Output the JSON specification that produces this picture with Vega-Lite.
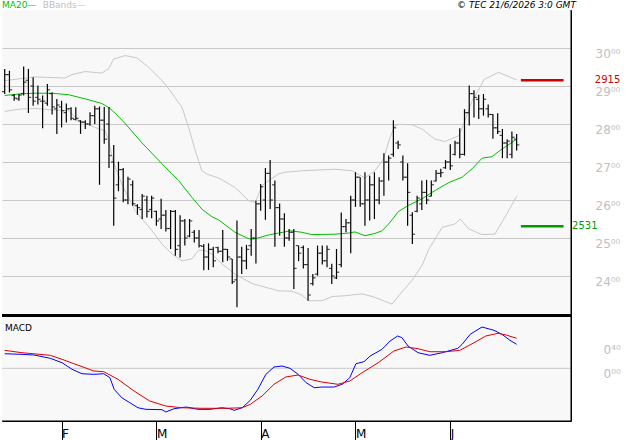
{
"$schema": "https://vega.github.io/schema/vega-lite/v6.json",
"padding": 0,
"background": "#ffffff",
"config": {"view": {"stroke": null, "fill": "#f8f8f8"}, "font": "DejaVu Sans"},
"spacing": 0,
"bounds": "flush",
"datasets": {
"bars": [
{"i":0,"o":28.85,"h":29.45,"l":28.79,"c":29.30},{"i":1,"o":29.30,"h":29.40,"l":28.83,"c":28.90},{"i":2,"o":28.75,"h":28.79,"l":28.61,"c":28.68},{"i":3,"o":28.66,"h":28.79,"l":28.61,"c":28.76},{"i":4,"o":28.80,"h":29.51,"l":28.75,"c":29.10},{"i":5,"o":29.15,"h":29.45,"l":28.29,"c":28.70},{"i":6,"o":29.00,"h":29.23,"l":28.48,"c":28.60},{"i":7,"o":28.70,"h":29.01,"l":28.51,"c":28.65},{"i":8,"o":28.60,"h":28.75,"l":27.89,"c":28.60},{"i":9,"o":28.55,"h":29.05,"l":28.48,"c":28.90},
{"i":10,"o":28.80,"h":28.83,"l":28.25,"c":28.45},{"i":11,"o":28.40,"h":28.66,"l":27.74,"c":28.50},{"i":12,"o":28.45,"h":28.61,"l":27.91,"c":28.35},{"i":13,"o":28.30,"h":28.54,"l":28.04,"c":28.40},{"i":14,"o":28.40,"h":28.44,"l":28.10,"c":28.15},{"i":15,"o":28.12,"h":28.44,"l":28.09,"c":28.15},{"i":16,"o":28.08,"h":28.10,"l":27.74,"c":28.05},{"i":17,"o":28.05,"h":28.10,"l":27.87,"c":28.00},{"i":18,"o":28.00,"h":28.31,"l":27.96,"c":28.22},{"i":19,"o":28.22,"h":28.48,"l":28.00,"c":28.40},
{"i":20,"o":28.40,"h":28.46,"l":26.40,"c":28.10},{"i":21,"o":28.10,"h":28.45,"l":27.48,"c":27.60},{"i":22,"o":28.00,"h":28.45,"l":26.84,"c":27.17},{"i":23,"o":27.00,"h":27.45,"l":25.32,"c":26.05},{"i":24,"o":26.40,"h":27.01,"l":26.23,"c":26.80},{"i":25,"o":26.80,"h":26.84,"l":25.94,"c":26.00},{"i":26,"o":26.00,"h":26.61,"l":25.89,"c":26.55},{"i":27,"o":26.40,"h":26.51,"l":25.85,"c":25.90},{"i":28,"o":25.85,"h":25.89,"l":25.61,"c":25.80},{"i":29,"o":25.75,"h":26.16,"l":25.50,"c":26.10},
{"i":30,"o":26.00,"h":26.11,"l":25.54,"c":25.70},{"i":31,"o":25.75,"h":26.11,"l":25.52,"c":26.05},{"i":32,"o":25.70,"h":25.72,"l":25.32,"c":25.45},{"i":33,"o":25.50,"h":26.03,"l":25.24,"c":25.60},{"i":34,"o":25.60,"h":25.74,"l":25.17,"c":25.25},{"i":35,"o":25.25,"h":25.74,"l":24.71,"c":25.70},{"i":36,"o":25.70,"h":25.74,"l":24.53,"c":24.70},{"i":37,"o":24.80,"h":25.60,"l":24.49,"c":25.45},{"i":38,"o":25.45,"h":25.50,"l":24.80,"c":25.00},{"i":39,"o":25.05,"h":25.50,"l":25.02,"c":25.45},
{"i":40,"o":25.15,"h":25.21,"l":24.88,"c":25.00},{"i":41,"o":25.00,"h":25.21,"l":24.75,"c":24.80},{"i":42,"o":24.78,"h":24.84,"l":24.15,"c":24.50},{"i":43,"o":24.50,"h":24.86,"l":24.16,"c":24.70},{"i":44,"o":24.70,"h":24.77,"l":24.23,"c":24.40},{"i":45,"o":24.75,"h":24.77,"l":24.60,"c":24.65},{"i":46,"o":24.65,"h":25.21,"l":24.36,"c":24.70},{"i":47,"o":24.70,"h":24.71,"l":24.40,"c":24.50},{"i":48,"o":24.45,"h":24.45,"l":23.79,"c":23.85},{"i":49,"o":23.90,"h":25.46,"l":23.18,"c":24.50},
{"i":50,"o":24.50,"h":24.77,"l":24.05,"c":24.40},{"i":51,"o":24.40,"h":24.82,"l":24.18,"c":24.70},{"i":52,"o":24.80,"h":25.24,"l":24.53,"c":25.00},{"i":53,"o":25.00,"h":25.98,"l":24.33,"c":25.90},{"i":54,"o":25.90,"h":26.42,"l":25.72,"c":26.35},{"i":55,"o":26.00,"h":26.84,"l":25.48,"c":26.70},{"i":56,"o":26.70,"h":27.05,"l":25.76,"c":26.00},{"i":57,"o":26.40,"h":26.51,"l":24.77,"c":25.80},{"i":58,"o":25.80,"h":25.91,"l":25.06,"c":25.50},{"i":59,"o":25.50,"h":25.65,"l":24.77,"c":25.00},
{"i":60,"o":25.00,"h":25.24,"l":24.93,"c":25.15},{"i":61,"o":25.15,"h":25.24,"l":23.66,"c":24.20},{"i":62,"o":24.80,"h":24.80,"l":24.39,"c":24.60},{"i":63,"o":24.75,"h":24.80,"l":24.20,"c":24.30},{"i":64,"o":24.30,"h":24.74,"l":23.35,"c":23.50},{"i":65,"o":23.80,"h":24.05,"l":23.75,"c":23.95},{"i":66,"o":24.05,"h":24.80,"l":24.01,"c":24.60},{"i":67,"o":24.60,"h":24.80,"l":24.30,"c":24.40},{"i":68,"o":24.40,"h":24.80,"l":24.23,"c":24.70},{"i":69,"o":24.20,"h":24.32,"l":23.79,"c":24.00},
{"i":70,"o":23.95,"h":24.71,"l":23.92,"c":24.10},{"i":71,"o":24.30,"h":25.67,"l":24.23,"c":25.30},{"i":72,"o":25.30,"h":25.50,"l":25.15,"c":25.40},{"i":73,"o":25.40,"h":26.11,"l":24.60,"c":26.00},{"i":74,"o":26.00,"h":26.73,"l":25.82,"c":26.60},{"i":75,"o":26.60,"h":26.60,"l":25.82,"c":25.90},{"i":76,"o":25.90,"h":26.73,"l":25.32,"c":26.00},{"i":77,"o":26.00,"h":26.64,"l":25.46,"c":26.40},{"i":78,"o":26.40,"h":26.73,"l":25.50,"c":26.00},{"i":79,"o":26.00,"h":26.60,"l":25.89,"c":26.50},
{"i":80,"o":26.50,"h":27.23,"l":26.11,"c":27.00},{"i":81,"o":27.00,"h":27.17,"l":26.51,"c":27.10},{"i":82,"o":27.20,"h":28.10,"l":27.14,"c":27.90},{"i":83,"o":27.50,"h":27.56,"l":27.34,"c":27.45},{"i":84,"o":27.00,"h":27.17,"l":26.51,"c":26.60},{"i":85,"o":26.60,"h":26.97,"l":25.32,"c":26.20},{"i":86,"o":25.60,"h":25.68,"l":24.84,"c":25.10},{"i":87,"o":25.70,"h":26.11,"l":25.68,"c":26.05},{"i":88,"o":25.90,"h":26.51,"l":25.74,"c":26.20},{"i":89,"o":26.20,"h":26.53,"l":25.89,"c":26.00},
{"i":90,"o":26.10,"h":26.51,"l":26.09,"c":26.40},{"i":91,"o":26.50,"h":26.79,"l":26.49,"c":26.70},{"i":92,"o":26.70,"h":26.82,"l":26.60,"c":26.72},{"i":93,"o":26.85,"h":27.05,"l":26.82,"c":27.00},{"i":94,"o":27.00,"h":27.47,"l":26.79,"c":26.90},{"i":95,"o":27.20,"h":27.56,"l":27.17,"c":27.50},{"i":96,"o":27.50,"h":27.89,"l":27.10,"c":27.20},{"i":97,"o":27.20,"h":28.39,"l":27.17,"c":28.30},{"i":98,"o":28.30,"h":29.01,"l":27.96,"c":28.80},{"i":99,"o":28.80,"h":28.89,"l":28.17,"c":28.70},
{"i":100,"o":28.65,"h":28.77,"l":28.13,"c":28.40},{"i":101,"o":28.40,"h":28.79,"l":28.22,"c":28.65},{"i":102,"o":28.40,"h":28.51,"l":28.17,"c":28.25},{"i":103,"o":28.25,"h":28.26,"l":27.61,"c":27.90},{"i":104,"o":27.90,"h":28.28,"l":27.74,"c":27.80},{"i":105,"o":27.70,"h":27.87,"l":27.10,"c":27.50},{"i":106,"o":27.50,"h":27.60,"l":27.10,"c":27.55},{"i":107,"o":27.20,"h":27.80,"l":27.10,"c":27.65},{"i":108,"o":27.60,"h":27.74,"l":27.30,"c":27.45}
],
"ma20": [
{"i":0,"v":28.75},{"i":3,"v":28.79},{"i":6,"v":28.81},{"i":10,"v":28.81},{"i":13.5,"v":28.77},{"i":17,"v":28.66},{"i":20.5,"v":28.54},{"i":22,"v":28.43},{"i":23.5,"v":28.26},{"i":25.5,"v":28.00},{"i":29,"v":27.50},{"i":33.2,"v":26.95},{"i":36.7,"v":26.51},{"i":39.5,"v":26.07},{"i":41.6,"v":25.76},{"i":43.7,"v":25.56},{"i":45.1,"v":25.48},{"i":48.6,"v":25.15},{"i":51.5,"v":24.98},{"i":52.5,"v":24.97},{"i":55.7,"v":25.08},{"i":57.8,"v":25.13},{"i":60.3,"v":25.19},{"i":62.7,"v":25.15},{"i":64.8,"v":25.09},{"i":69.7,"v":25.10},{"i":72.6,"v":25.13},{"i":73.9,"v":25.16},{"i":76,"v":25.06},{"i":78.1,"v":25.12},{"i":79.6,"v":25.19},{"i":81,"v":25.37},{"i":83.1,"v":25.70},{"i":85.2,"v":25.86},{"i":88,"v":26.03},{"i":90.8,"v":26.25},{"i":93.7,"v":26.46},{"i":96.5,"v":26.60},{"i":98.6,"v":26.82},{"i":100.7,"v":27.10},{"i":102.8,"v":27.14},{"i":104.9,"v":27.34},{"i":108,"v":27.60}
],
"bbu": [
{"i":0,"v":29.14},{"i":6.4,"v":29.24},{"i":12.7,"v":29.21},{"i":14.2,"v":29.30},{"i":16.9,"v":29.38},{"i":20.5,"v":29.34},{"i":21.9,"v":29.45},{"i":23,"v":29.71},{"i":25.4,"v":29.80},{"i":27.9,"v":29.74},{"i":30.4,"v":29.49},{"i":33.2,"v":29.14},{"i":34.9,"v":28.88},{"i":35.9,"v":28.70},{"i":37.4,"v":28.44},{"i":38.8,"v":27.91},{"i":40.2,"v":27.30},{"i":41.6,"v":26.77},{"i":42.7,"v":26.68},{"i":45.1,"v":26.58},{"i":48.6,"v":26.33},{"i":51.5,"v":25.98},{"i":52.9,"v":25.94},{"i":54.3,"v":26.38},{"i":55.7,"v":26.51},{"i":57.8,"v":26.69},{"i":59.1,"v":26.73},{"i":62.7,"v":26.77},{"i":69.7,"v":26.81},{"i":73.3,"v":26.77},{"i":76,"v":26.58},{"i":78.1,"v":26.77},{"i":79.9,"v":27.08},{"i":81.3,"v":27.65},{"i":82.3,"v":27.95},{"i":83.1,"v":27.99},{"i":85.9,"v":27.98},{"i":88,"v":27.87},{"i":90.8,"v":27.60},{"i":92.9,"v":27.54},{"i":95.8,"v":27.69},{"i":97.1,"v":28.09},{"i":98.6,"v":28.61},{"i":100,"v":28.90},{"i":101.1,"v":29.17},{"i":104.2,"v":29.36},{"i":106.3,"v":29.25},{"i":108,"v":29.16}
],
"bbl": [
{"i":0,"v":28.33},{"i":3,"v":28.39},{"i":6.4,"v":28.41},{"i":10,"v":28.37},{"i":13.5,"v":28.35},{"i":15.6,"v":28.09},{"i":19,"v":27.91},{"i":21.2,"v":27.82},{"i":21.9,"v":27.56},{"i":22.9,"v":27.00},{"i":24.7,"v":26.42},{"i":27.5,"v":25.72},{"i":29,"v":25.50},{"i":31.1,"v":25.19},{"i":33.2,"v":24.84},{"i":35.3,"v":24.58},{"i":37.4,"v":24.40},{"i":39.5,"v":24.45},{"i":40.9,"v":24.68},{"i":42.3,"v":24.67},{"i":43.7,"v":24.58},{"i":45.8,"v":24.32},{"i":48.6,"v":24.05},{"i":52.2,"v":23.80},{"i":55.7,"v":23.68},{"i":57.8,"v":23.61},{"i":60.6,"v":23.60},{"i":62.7,"v":23.50},{"i":64.1,"v":23.35},{"i":67,"v":23.35},{"i":69.1,"v":23.46},{"i":71.8,"v":23.48},{"i":75.4,"v":23.53},{"i":78.1,"v":23.44},{"i":81.7,"v":23.26},{"i":83.8,"v":23.58},{"i":85.9,"v":23.88},{"i":88,"v":24.27},{"i":89.5,"v":24.71},{"i":92.3,"v":25.28},{"i":95,"v":25.37},{"i":96.1,"v":25.50},{"i":97.9,"v":25.24},{"i":100.7,"v":25.09},{"i":103.4,"v":25.10},{"i":105.5,"v":25.54},{"i":108,"v":26.10}
],
"macd": [
{"i":0,"v":0.240},{"i":3.65,"v":0.230},{"i":6.2,"v":0.219},{"i":9.6,"v":0.165},{"i":12.1,"v":0.092},{"i":14.2,"v":-0.016},{"i":16.3,"v":-0.089},{"i":18.8,"v":-0.099},{"i":20.9,"v":-0.089},{"i":22.2,"v":-0.155},{"i":23.1,"v":-0.346},{"i":24.7,"v":-0.484},{"i":26.4,"v":-0.566},{"i":28.1,"v":-0.649},{"i":29.8,"v":-0.675},{"i":33.2,"v":-0.681},{"i":34,"v":-0.719},{"i":35.7,"v":-0.665},{"i":38.3,"v":-0.637},{"i":40.8,"v":-0.675},{"i":43.3,"v":-0.675},{"i":45.8,"v":-0.649},{"i":47.5,"v":-0.665},{"i":48.4,"v":-0.691},{"i":50.1,"v":-0.649},{"i":51.8,"v":-0.527},{"i":53.4,"v":-0.346},{"i":55.1,"v":-0.099},{"i":56.8,"v":0.021},{"i":58.5,"v":0.038},{"i":60.2,"v":0.0},{"i":61.9,"v":-0.099},{"i":63.6,"v":-0.237},{"i":65.3,"v":-0.319},{"i":66.9,"v":-0.308},{"i":69.5,"v":-0.308},{"i":71.2,"v":-0.263},{"i":72.8,"v":-0.155},{"i":74.1,"v":0.076},{"i":75.8,"v":0.109},{"i":77.1,"v":0.202},{"i":79.6,"v":0.313},{"i":81.3,"v":0.449},{"i":82.9,"v":0.532},{"i":83.8,"v":0.504},{"i":85.1,"v":0.367},{"i":87.2,"v":0.257},{"i":89.7,"v":0.214},{"i":92.3,"v":0.257},{"i":95.6,"v":0.329},{"i":96.5,"v":0.395},{"i":98.2,"v":0.560},{"i":100.7,"v":0.680},{"i":103.2,"v":0.626},{"i":104.9,"v":0.560},{"i":106.6,"v":0.461},{"i":108,"v":0.395}
],
"signal": [
{"i":0,"v":0.296},{"i":3.65,"v":0.257},{"i":9.6,"v":0.214},{"i":12.1,"v":0.148},{"i":14.6,"v":0.076},{"i":18.8,"v":-0.044},{"i":20.9,"v":-0.056},{"i":23.9,"v":-0.181},{"i":27.3,"v":-0.374},{"i":30.6,"v":-0.538},{"i":34,"v":-0.621},{"i":37.4,"v":-0.649},{"i":41.6,"v":-0.658},{"i":46.7,"v":-0.658},{"i":50.1,"v":-0.649},{"i":51.8,"v":-0.593},{"i":54.3,"v":-0.456},{"i":56.8,"v":-0.263},{"i":59.3,"v":-0.143},{"i":61.9,"v":-0.110},{"i":64.4,"v":-0.181},{"i":66.9,"v":-0.226},{"i":70.3,"v":-0.263},{"i":72.8,"v":-0.209},{"i":75.4,"v":-0.072},{"i":78.8,"v":0.092},{"i":82.1,"v":0.285},{"i":84.7,"v":0.351},{"i":87.2,"v":0.323},{"i":89.7,"v":0.273},{"i":93.1,"v":0.273},{"i":96,"v":0.296},{"i":99,"v":0.421},{"i":101.5,"v":0.532},{"i":104.1,"v":0.576},{"i":105.8,"v":0.548},{"i":108,"v":0.494}
],
"levels": [
{"name":"resistance","level":29.15,"label":"2915"},
{"name":"support","level":25.31,"label":"2531"}
],
"notes": [
{"name":"ma","text":"MA20—"},
{"name":"bb","text":"BBands—"},
{"name":"copy","text":"© TEC 21/6/2026 3:0 GMT"},
{"name":"macd","text":"MACD"}
],
"frame": [{"part":"border"}]
},
"vconcat": [
{
"width": 569, "height": 304,
"layer": [
{"data": {"name": "bbu"}, "mark": {"type": "line", "color": "#c8c8c8", "strokeWidth": 1},
 "encoding": {
  "x": {"field": "i", "type": "quantitative", "scale": {"domain": [-0.57, 119.47], "nice": false, "zero": false}, "axis": null, "title": null},
  "y": {"field": "v", "type": "quantitative", "scale": {"domain": [23, 31], "nice": false, "zero": false}, "title": null,
   "axis": {"orient": "right", "values": [24,25,26,27,28,29,30], "grid": true, "gridColor": "#c8c8c8", "gridWidth": 1, "ticks": false, "domain": true, "domainColor": "#000000", "domainWidth": 1, "labelColor": "#c0c0c0", "labelFontSize": 12, "labelBaseline": "top", "labelPadding": 24, "labelFlush": false, "labelOverlap": false, "labelExpr": "datum.value + '⁰⁰'", "title": null}}
 }},
{"data": {"name": "bbl"}, "mark": {"type": "line", "color": "#c8c8c8", "strokeWidth": 1},
 "encoding": {
  "x": {"field": "i", "type": "quantitative", "scale": {"domain": [-0.57, 119.47], "nice": false, "zero": false}, "title": null},
  "y": {"field": "v", "type": "quantitative", "scale": {"domain": [23, 31], "nice": false, "zero": false}, "title": null}
 }},
{"data": {"name": "ma20"}, "mark": {"type": "line", "color": "#00c000", "strokeWidth": 1},
 "encoding": {
  "x": {"field": "i", "type": "quantitative", "scale": {"domain": [-0.57, 119.47], "nice": false, "zero": false}, "title": null},
  "y": {"field": "v", "type": "quantitative", "scale": {"domain": [23, 31], "nice": false, "zero": false}, "title": null}
 }},
{"data": {"name": "bars"}, "mark": {"type": "rule", "color": "#000000", "strokeWidth": 1.2},
 "encoding": {
  "x": {"field": "i", "type": "quantitative", "scale": {"domain": [-0.57, 119.47], "nice": false, "zero": false}, "title": null},
  "y": {"field": "l", "type": "quantitative", "scale": {"domain": [23, 31], "nice": false, "zero": false}, "title": null},
  "y2": {"field": "h"}
 }},
{"data": {"name": "bars"}, "mark": {"type": "tick", "orient": "horizontal", "color": "#000000", "size": 2.5, "thickness": 1.2, "xOffset": -1.5},
 "encoding": {
  "x": {"field": "i", "type": "quantitative", "scale": {"domain": [-0.57, 119.47], "nice": false, "zero": false}, "title": null},
  "y": {"field": "o", "type": "quantitative", "scale": {"domain": [23, 31], "nice": false, "zero": false}, "title": null}
 }},
{"data": {"name": "bars"}, "mark": {"type": "tick", "orient": "horizontal", "color": "#000000", "size": 2.5, "thickness": 1.2, "xOffset": 1.5},
 "encoding": {
  "x": {"field": "i", "type": "quantitative", "scale": {"domain": [-0.57, 119.47], "nice": false, "zero": false}, "title": null},
  "y": {"field": "c", "type": "quantitative", "scale": {"domain": [23, 31], "nice": false, "zero": false}, "title": null}
 }},
{"data": {"name": "levels"}, "transform": [{"filter": "datum.name == 'resistance'"}],
 "mark": {"type": "rule", "color": "#cc0000", "strokeWidth": 2.5},
 "encoding": {
  "x": {"datum": 108.9}, "x2": {"datum": 117.9},
  "y": {"field": "level", "type": "quantitative", "scale": {"domain": [23, 31], "nice": false, "zero": false}, "title": null}
 }},
{"data": {"name": "levels"}, "transform": [{"filter": "datum.name == 'support'"}],
 "mark": {"type": "rule", "color": "#009900", "strokeWidth": 2.5},
 "encoding": {
  "x": {"datum": 108.9}, "x2": {"datum": 117.9},
  "y": {"field": "level", "type": "quantitative", "scale": {"domain": [23, 31], "nice": false, "zero": false}, "title": null}
 }},
{"data": {"name": "levels"}, "transform": [{"filter": "datum.name == 'resistance'"}],
 "mark": {"type": "text", "color": "#cc0000", "fontSize": 10, "align": "left", "baseline": "middle", "dy": -0.5},
 "encoding": {
  "x": {"datum": 124.5},
  "y": {"field": "level", "type": "quantitative", "scale": {"domain": [23, 31], "nice": false, "zero": false}, "title": null},
  "text": {"field": "label"}
 }},
{"data": {"name": "levels"}, "transform": [{"filter": "datum.name == 'support'"}],
 "mark": {"type": "text", "color": "#009900", "fontSize": 10, "align": "left", "baseline": "middle"},
 "encoding": {
  "x": {"datum": 119.7},
  "y": {"field": "level", "type": "quantitative", "scale": {"domain": [23, 31], "nice": false, "zero": false}, "title": null},
  "text": {"field": "label"}
 }},
{"data": {"name": "frame"}, "mark": {"type": "rule", "color": "#000000", "strokeWidth": 1},
 "encoding": {"x": {"datum": 119.47}}},
{"data": {"name": "notes"}, "transform": [{"filter": "datum.name == 'ma'"}],
 "mark": {"type": "text", "color": "#00c000", "fontSize": 9, "align": "left", "baseline": "top"},
 "encoding": {"x": {"datum": -0.57}, "y": {"datum": 31.237}, "text": {"field": "text"}}},
{"data": {"name": "notes"}, "transform": [{"filter": "datum.name == 'bb'"}],
 "mark": {"type": "text", "color": "#c0c0c0", "fontSize": 9, "align": "left", "baseline": "top"},
 "encoding": {"x": {"datum": 8.02}, "y": {"datum": 31.237}, "text": {"field": "text"}}},
{"data": {"name": "notes"}, "transform": [{"filter": "datum.name == 'copy'"}],
 "mark": {"type": "text", "color": "#000000", "fontSize": 9, "fontStyle": "italic", "align": "right", "baseline": "top"},
 "encoding": {"x": {"datum": 120.5}, "y": {"datum": 31.237}, "text": {"field": "text"}}}
]
},
{
"width": 569, "height": 107,
"layer": [
{"data": {"name": "frame"}, "mark": {"type": "rule", "color": "#c8c8c8", "strokeWidth": 1},
 "encoding": {"y": {"datum": 0, "scale": {"domain": [-0.867, 0.894], "nice": false, "zero": false}}}},
{"data": {"name": "macd"}, "mark": {"type": "line", "color": "#0000ff", "strokeWidth": 1},
 "encoding": {
  "x": {"field": "i", "type": "quantitative", "scale": {"domain": [-0.57, 119.47], "nice": false, "zero": false}, "title": null,
   "axis": {"values": [12,32,54,74,94], "labelExpr": "datum.value==12?'F':datum.value==32?'M':datum.value==54?'A':datum.value==74?'M':'J'", "tickSize": 20, "tickColor": "#000000", "tickWidth": 1, "domain": true, "domainColor": "#000000", "domainWidth": 1, "labelPadding": -13, "labelAlign": "left", "labelDx": 2, "labelBaseline": "top", "labelFontSize": 12, "labelColor": "#000000", "grid": false, "labelFlush": false, "labelOverlap": false, "title": null}},
  "y": {"field": "v", "type": "quantitative", "scale": {"domain": [-0.867, 0.894], "nice": false, "zero": false}, "title": null,
   "axis": {"orient": "right", "values": [0, 0.4], "grid": false, "ticks": false, "domain": true, "domainColor": "#000000", "domainWidth": 1, "labelColor": "#c0c0c0", "labelFontSize": 12, "labelBaseline": "top", "labelPadding": 32, "labelFlush": false, "labelOverlap": false, "labelExpr": "datum.value == 0 ? '0⁰⁰' : '0⁴⁰'", "title": null}}
 }},
{"data": {"name": "signal"}, "mark": {"type": "line", "color": "#e00000", "strokeWidth": 1},
 "encoding": {
  "x": {"field": "i", "type": "quantitative", "scale": {"domain": [-0.57, 119.47], "nice": false, "zero": false}, "title": null},
  "y": {"field": "v", "type": "quantitative", "scale": {"domain": [-0.867, 0.894], "nice": false, "zero": false}, "title": null}
 }},
{"data": {"name": "frame"}, "mark": {"type": "rule", "color": "#000000", "strokeWidth": 3},
 "encoding": {"y": {"datum": 0.868}}},
{"data": {"name": "frame"}, "mark": {"type": "rule", "color": "#000000", "strokeWidth": 1},
 "encoding": {"y": {"datum": -0.867}}},
{"data": {"name": "frame"}, "mark": {"type": "rule", "color": "#000000", "strokeWidth": 1},
 "encoding": {"x": {"datum": 119.47}}},
{"data": {"name": "notes"}, "transform": [{"filter": "datum.name == 'macd'"}],
 "mark": {"type": "text", "color": "#000000", "fontSize": 9, "align": "left", "baseline": "middle"},
 "encoding": {"x": {"datum": 0.06}, "y": {"datum": 0.658}, "text": {"field": "text"}}}
]
}
]
}
